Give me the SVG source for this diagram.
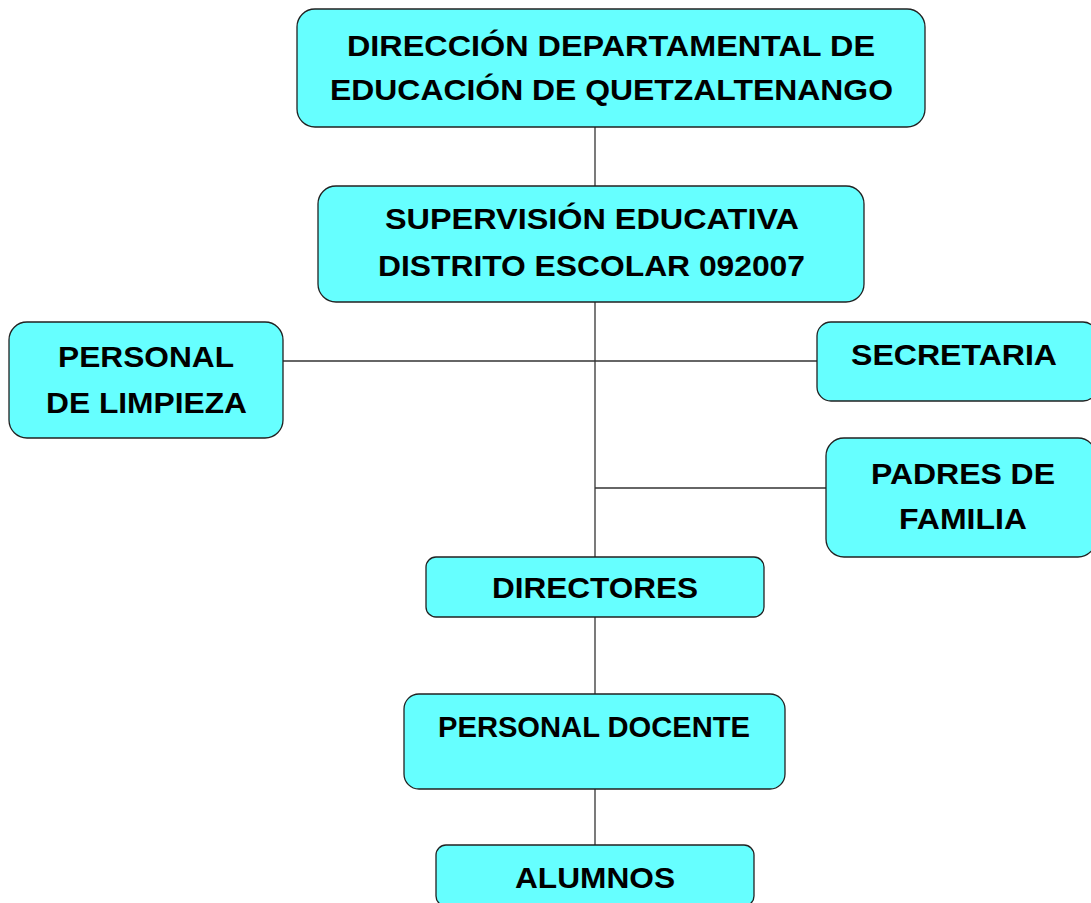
<svg xmlns="http://www.w3.org/2000/svg" width="1091" height="903" viewBox="0 0 1091 903">
<style>
.box{fill:#66FFFF;stroke:#222;stroke-width:1.3}
.t{font-family:"Liberation Sans",Arial,sans-serif;font-weight:bold;font-size:29.5px;fill:#000;text-anchor:middle}
.c{stroke:#333;stroke-width:1.3;fill:none}
</style>
<rect width="1091" height="903" fill="#fff"/>
<g id="connectors">
<line class="c" x1="595" y1="127" x2="595" y2="186"/>
<line class="c" x1="595" y1="302" x2="595" y2="557"/>
<line class="c" x1="283" y1="361" x2="817" y2="361"/>
<line class="c" x1="595" y1="488" x2="826" y2="488"/>
<line class="c" x1="595" y1="617" x2="595" y2="694"/>
<line class="c" x1="595" y1="789" x2="595" y2="845"/>
</g>
<g id="direccion">
<rect class="box" x="297" y="9" width="628" height="118" rx="18"/>
<text class="t" x="611" y="56" textLength="528" lengthAdjust="spacingAndGlyphs">DIRECCIÓN DEPARTAMENTAL DE</text>
<text class="t" x="611.5" y="100" textLength="563" lengthAdjust="spacingAndGlyphs">EDUCACIÓN DE QUETZALTENANGO</text>
</g>
<g id="supervision">
<rect class="box" x="318" y="186" width="546" height="116" rx="18"/>
<text class="t" x="592" y="229" textLength="414" lengthAdjust="spacingAndGlyphs">SUPERVISIÓN EDUCATIVA</text>
<text class="t" x="591.5" y="276" textLength="427" lengthAdjust="spacingAndGlyphs">DISTRITO ESCOLAR 092007</text>
</g>
<g id="limpieza">
<rect class="box" x="9" y="322" width="274" height="116" rx="18"/>
<text class="t" x="146" y="367" textLength="176" lengthAdjust="spacingAndGlyphs">PERSONAL</text>
<text class="t" x="146.5" y="413" textLength="201" lengthAdjust="spacingAndGlyphs">DE LIMPIEZA</text>
</g>
<g id="secretaria">
<rect class="box" x="817" y="322" width="280" height="79" rx="14"/>
<text class="t" x="954" y="365" textLength="206" lengthAdjust="spacingAndGlyphs">SECRETARIA</text>
</g>
<g id="padres">
<rect class="box" x="826" y="438" width="270" height="119" rx="18"/>
<text class="t" x="963" y="484" textLength="184" lengthAdjust="spacingAndGlyphs">PADRES DE</text>
<text class="t" x="963" y="529" textLength="128" lengthAdjust="spacingAndGlyphs">FAMILIA</text>
</g>
<g id="directores">
<rect class="box" x="426" y="557" width="338" height="60" rx="10"/>
<text class="t" x="595" y="598" textLength="206" lengthAdjust="spacingAndGlyphs">DIRECTORES</text>
</g>
<g id="docente">
<rect class="box" x="404" y="694" width="381" height="95" rx="15"/>
<text class="t" x="594" y="737" textLength="312" lengthAdjust="spacingAndGlyphs">PERSONAL DOCENTE</text>
</g>
<g id="alumnos">
<rect class="box" x="436" y="845" width="318" height="61" rx="10"/>
<text class="t" x="595" y="888" textLength="160" lengthAdjust="spacingAndGlyphs">ALUMNOS</text>
</g>
</svg>
